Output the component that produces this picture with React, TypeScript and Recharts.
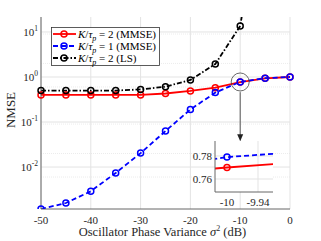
import React from 'react'
import {
  LineChart,
  Line,
  XAxis,
  YAxis,
  CartesianGrid,
  ReferenceDot,
  ReferenceLine,
  Label,
} from 'recharts'

// oscillator phase variance sigma^2 (dB)
const phaseVar = [-50, -45, -40, -35, -30, -25, -20, -15, -10, -5, 0]
// K/tau_p = 2, MMSE
const mmseK2 = [0.4, 0.4, 0.4, 0.4, 0.4, 0.43, 0.49, 0.58, 0.77, 0.935, 1.0]
// K/tau_p = 1, MMSE
const mmseK1 = [0.00117, 0.00159, 0.0029, 0.0074, 0.0204, 0.063, 0.19, 0.45, 0.779, 0.94, 1.0]
// K/tau_p = 2, LS (goes off the top of the plot)
const lsK2 = [0.5, 0.5, 0.5, 0.5, 0.53, 0.61, 0.86, 1.94, 13.6, 30000, 1000000]

const seriesRatio = ['2', '1', '2']
const seriesMethod = ['(MMSE)', '(MMSE)', '(LS)']
const seriesColor = ['#ff0000', '#0000ff', '#000000']
const seriesDash = ['none', '5 3', '5 2 1.5 2']

const xTicks = [-50, -40, -30, -20, -10, 0]
const yTicks = [0.01, 0.1, 1, 10]
const yTickExp = ['-2', '-1', '0', '1']

const insetXTicks = [-10, -9.94]
const insetYTicks = [0.76, 0.78]

const FONT = '"Liberation Serif", "Times New Roman", serif'

const rows = phaseVar.map((x, i) => ({
  x,
  k2: mmseK2[i],
  k1: mmseK1[i],
  ls: lsK2[i],
}))

// minor log grid lines
const minorY: number[] = []
for (let d = -3; d <= 1; d++) {
  for (let k = 2; k <= 9; k++) minorY.push(k * Math.pow(10, d))
}

const keys = ['k2', 'k1', 'ls']

const YTick = (props: any) => {
  const { x, y, payload } = props
  const i = yTicks.indexOf(payload.value)
  return (
    <text x={x} y={y} dy="0.35em" textAnchor="end" fontFamily={FONT} fontSize={11} fill="#262626">
      <tspan>10</tspan>
      <tspan dy={-5} fontSize={7.5}>{yTickExp[i]}</tspan>
    </text>
  )
}

const Arrow = (props: any) => {
  const { x1, y1, x2, y2 } = props
  return (
    <g>
      <line x1={x1} y1={y1} x2={x2} y2={y2 - 4} stroke="#333" strokeWidth={0.8} />
      <path d={`M${x2 - 3},${y2 - 7} L${x2},${y2} L${x2 + 3},${y2 - 7} Z`} fill="#222" />
    </g>
  )
}

const LegendBox = () => (
  <svg
    width={110}
    height={40}
    style={{ position: 'absolute', left: 51, top: 27, overflow: 'visible' }}
  >
    <rect x={0.5} y={0.5} width={108} height={38} fill="#fff" stroke="#333" strokeWidth={0.8} />
    {keys.map((k, i) => {
      const cy = 7 + i * 12
      return (
        <g key={k}>
          <line
            x1={2}
            y1={cy}
            x2={25}
            y2={cy}
            stroke={seriesColor[i]}
            strokeWidth={1.8}
            strokeDasharray={seriesDash[i]}
          />
          <circle cx={13} cy={cy} r={3} fill="none" stroke={seriesColor[i]} strokeWidth={1.5} />
          <text x={27} y={cy} dy="0.35em" fontFamily={FONT} fontSize={11} fill="#000">
            <tspan fontStyle="italic">K</tspan>
            <tspan>/</tspan>
            <tspan fontStyle="italic">τ</tspan>
            <tspan fontStyle="italic" fontSize={8} dy={3}>p</tspan>
            <tspan dy={-3}>{` = ${seriesRatio[i]} ${seriesMethod[i]}`}</tspan>
          </text>
        </g>
      )
    })}
  </svg>
)

const renderLines = (inset: boolean) =>
  keys.map((k, i) => (
    <Line
      key={k}
      dataKey={k}
      stroke={seriesColor[i]}
      strokeWidth={1.8}
      strokeDasharray={seriesDash[i]}
      dot={{ r: 3, strokeWidth: 1.5, fill: 'none', strokeDasharray: 'none' }}
      isAnimationActive={false}
      hide={inset && k === 'ls'}
    />
  ))

export default function App() {
  return (
    <div style={{ position: 'absolute', left: 0, top: 0, width: 321, height: 241, background: '#fff' }}>
      <LineChart width={321} height={241} data={rows} margin={{ top: 17, right: 31, left: 11, bottom: 0 }}>
        <CartesianGrid
          horizontalValues={minorY}
          vertical={false}
          stroke="#ececec"
          strokeDasharray="1 1"
        />
        <CartesianGrid horizontalValues={yTicks} verticalValues={xTicks} stroke="#e3e3e3" />
        <XAxis
          type="number"
          dataKey="x"
          domain={[-50, 0]}
          ticks={xTicks}
          height={32}
          tickLine={false}
          tickSize={0}
          tickMargin={7}
          axisLine={{ stroke: '#666' }}
          tick={{ fontFamily: FONT, fontSize: 11, fill: '#262626' }}
        >
          <Label
            content={({ viewBox }: any) => (
              <text
                x={viewBox.x + viewBox.width / 2 - 3}
                y={viewBox.y + 27}
                textAnchor="middle"
                fontFamily={FONT}
                fontSize={12.5}
                fill="#262626"
              >
                <tspan>Oscillator Phase Variance </tspan>
                <tspan fontStyle="italic">σ</tspan>
                <tspan fontSize={8} dy={-5}>2</tspan>
                <tspan dy={5}> (dB)</tspan>
              </text>
            )}
          />
        </XAxis>
        <XAxis xAxisId="top" orientation="top" type="number" domain={[-50, 0]} height={0} tick={false} tickLine={false} axisLine={{ stroke: '#666' }} />
        <YAxis
          scale="log"
          type="number"
          domain={[0.00117, 21.5]}
          allowDataOverflow
          ticks={yTicks}
          width={30}
          tickLine={false}
          tickSize={0}
          tickMargin={3}
          axisLine={{ stroke: '#666' }}
          tick={<YTick />}
        >
          <Label
            content={({ viewBox }: any) => {
              const x = 15
              const y = viewBox.y + viewBox.height / 2 - 3
              return (
                <text
                  x={x}
                  y={y}
                  textAnchor="middle"
                  transform={`rotate(-90, ${x}, ${y})`}
                  fontFamily={FONT}
                  fontSize={13}
                  fill="#262626"
                >
                  NMSE
                </text>
              )
            }}
          />
        </YAxis>
        <YAxis yAxisId="right" orientation="right" type="number" domain={[0, 1]} width={0} tick={false} tickLine={false} axisLine={{ stroke: '#666' }} />
        {renderLines(false)}
        <ReferenceDot x={-10} y={0.775} r={9} fill="none" stroke="#444" strokeWidth={0.8} />
        <ReferenceLine
          segment={[
            { x: -10, y: 0.46 },
            { x: -10, y: 0.0375 },
          ]}
          shape={<Arrow />}
        />
      </LineChart>

      <LegendBox />

      {/* zoomed inset around sigma^2 = -10 dB */}
      <div style={{ position: 'absolute', left: 183, top: 136 }}>
        <LineChart width={95} height={78} data={rows} margin={{ top: 5, right: 5, left: 0, bottom: 0 }}>
          <CartesianGrid
            fill="#fff"
            horizontalValues={insetYTicks}
            verticalValues={insetXTicks}
            stroke="#e3e3e3"
          />
          <XAxis
            type="number"
            dataKey="x"
            domain={[-10.0232, -9.911]}
            allowDataOverflow
            ticks={insetXTicks}
            height={22}
            tickLine={false}
            tickSize={0}
            tickMargin={6}
            axisLine={{ stroke: '#666' }}
            tick={{ fontFamily: FONT, fontSize: 11, fill: '#262626' }}
          />
          <XAxis xAxisId="top" orientation="top" type="number" domain={[0, 1]} height={0} tick={false} tickLine={false} axisLine={{ stroke: '#666' }} />
          <YAxis
            type="number"
            domain={[0.7487, 0.793]}
            allowDataOverflow
            ticks={insetYTicks}
            width={32}
            tickLine={false}
            tickSize={0}
            tickMargin={3}
            axisLine={{ stroke: '#666' }}
            tick={{ fontFamily: FONT, fontSize: 11, fill: '#262626' }}
          />
          <YAxis yAxisId="right" orientation="right" type="number" domain={[0, 1]} width={0} tick={false} tickLine={false} axisLine={{ stroke: '#666' }} />
          {renderLines(true)}
        </LineChart>
      </div>
    </div>
  )
}
